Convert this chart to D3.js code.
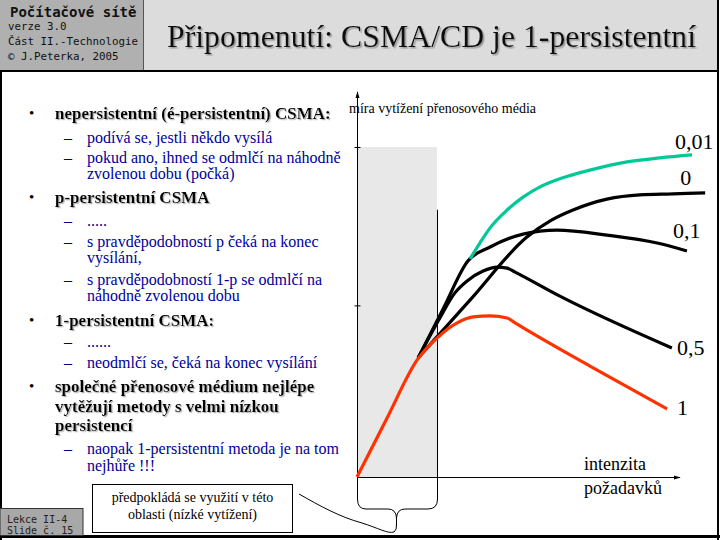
<!DOCTYPE html>
<html><head><meta charset="utf-8">
<script src="https://cdn.jsdelivr.net/npm/d3@7"></script>
<style>body{margin:0;background:#fff}svg{display:block}</style>
</head><body><svg id="c" width="720" height="540"></svg>
<script>
// ---------- data ----------
const persistenceLabels = ["0,01", "0", "0,1", "0,5", "1"];
const curveP001 = [[35.3,66.1],[38.4,70.9],[41.6,75.5],[46.9,80.9],[51.9,84.8],[57.2,87.9],[64.1,90.6],[72.8,93.0],[84.4,95.5],[94.7,96.7],[104.7,97.6]];
const curveP0   = [[19.1,36.1],[35.3,53.6],[53.1,72.7],[60.9,77.9],[67.5,80.9],[78.1,84.2],[88.4,85.5],[98.8,85.8],[108.8,86.1]];
const curveP01  = [[19.1,36.1],[26.9,50.9],[34.7,65.5],[41.6,69.7],[51.9,73.6],[62.5,74.8],[78.1,73.3],[93.8,70.9],[103.1,68.5]];
const curveP05  = [[19.1,36.1],[25.9,48.2],[30.6,55.8],[34.4,59.4],[39.4,62.4],[43.8,63.6],[46.9,63.3],[49.4,62.1],[63.4,54.8],[98.4,39.1]];
const curveP1   = [[0,0],[9.4,17.9],[18.8,35.5],[25,42.1],[31.3,46.7],[36.3,48.5],[41.6,48.8],[46.9,48.2],[49.4,46.7],[72.8,33.6],[96.9,20.6]];
const yTickValues = [52, 100];
const lowLoadRange = [0, 25];
const yAxisTitle = "míra vytížení přenosového média";
const xAxisTitle = ["intenzita", "požadavků"];
const calloutText = ["předpokládá se využití v této", "oblasti (nízké vytížení)"];
const titleText = "Připomenutí: CSMA/CD je 1-persistentní";
const headerTitle = "Počítačové sítě";
const headerLines = ["verze 3.0", "Část II.-Technologie", "© J.Peterka, 2005"];
const footerLines = ["Lekce II-4", "Slide č. 15"];
const bulletLevels = [1, 2, 2, 1, 2, 2, 2, 1, 2, 2, 1, 2];
const bulletTexts = [
  ["nepersistentní (é-persistentní) CSMA:"],
  ["podívá se, jestli někdo vysílá"],
  ["pokud ano, ihned se odmlčí na náhodně", "zvolenou dobu (počká)"],
  ["p-persistentní CSMA"],
  ["....."],
  ["s pravděpodobností p čeká na konec", "vysílání,"],
  ["s pravděpodobností 1-p se odmlčí na", "náhodně zvolenou dobu"],
  ["1-persistentní CSMA:"],
  ["......"],
  ["neodmlčí se, čeká na konec vysílání"],
  ["společné přenosové médium nejlépe", "vytěžují metody s velmi nízkou", "persistencí"],
  ["naopak 1-persistentní metoda je na tom", "nejhůře !!!"]
];

// ---------- layout ----------
const svg = d3.select("#c");
const serif = "'Liberation Serif','Times New Roman',serif";
const mono = "'DejaVu Sans Mono','Liberation Mono',monospace";

const defs = svg.append("defs");
const mkShadow = (id, d, c) => defs.append("filter").attr("id",id).attr("x","-5%").attr("y","-20%").attr("width","110%").attr("height","140%")
  .append("feDropShadow").attr("dx",d).attr("dy",d).attr("stdDeviation",0).attr("flood-color",c).attr("flood-opacity",1);
mkShadow("shT", 1.5, "#9a9a9a");
mkShadow("shB", 1.2, "#b4b4b4");
defs.append("marker").attr("id","arr").attr("viewBox","0 0 10 10").attr("refX",9).attr("refY",5)
  .attr("markerWidth",7).attr("markerHeight",7).attr("orient","auto")
  .append("path").attr("d","M0,2 L10,5 L0,8 Z").attr("fill","#000");

svg.append("rect").attr("x",0).attr("y",0).attr("width",720).attr("height",540).attr("fill","#fff");
// header
svg.append("rect").attr("x",0).attr("y",0).attr("width",143).attr("height",71).attr("fill","#b0b0b0");
svg.append("rect").attr("x",143).attr("y",0).attr("width",576).attr("height",71).attr("fill","#dcdcdc");
svg.append("line").attr("x1",143.5).attr("x2",143.5).attr("y1",0).attr("y2",71).attr("stroke","#555");
svg.append("text").attr("x",10).attr("y",17).attr("font-family",mono).attr("font-weight","bold")
  .attr("font-size",14).attr("fill","#111").text(headerTitle);
headerLines.forEach((t,i)=>svg.append("text").attr("x",8).attr("y",[30,45,60][i])
  .attr("font-family",mono).attr("font-size",10.8).attr("fill","#111").text(t));
// title
svg.append("text").attr("x",167).attr("y",47).attr("font-family",serif).attr("font-size",31.8)
  .attr("fill","#111").attr("filter","url(#shT)").text(titleText);
// frame
svg.append("line").attr("x1",0).attr("x2",719).attr("y1",71).attr("y2",71).attr("stroke","#000").attr("stroke-width",2);
svg.append("line").attr("x1",1).attr("x2",1).attr("y1",70).attr("y2",540).attr("stroke","#000").attr("stroke-width",2);
svg.append("line").attr("x1",718).attr("x2",718).attr("y1",0).attr("y2",540).attr("stroke","#000").attr("stroke-width",2);
svg.append("line").attr("x1",0).attr("x2",720).attr("y1",536.5).attr("y2",536.5).attr("stroke","#000").attr("stroke-width",3);
// footer box
svg.append("rect").attr("x",0).attr("y",508.5).attr("width",83).attr("height",27).attr("fill","#a8a8a8").attr("stroke","#333");
footerLines.forEach((t,i)=>svg.append("text").attr("x",7).attr("y",[523,534][i])
  .attr("font-family",mono).attr("font-size",10).attr("fill","#222").text(t));

// bullets
const bulletY = [[119],[143],[163,179],[203],[226],[247,263],[285,301],[326],[347],[368],[392,412,431],[454,471]];
bulletTexts.forEach((lines,i)=>{
  const lvl = bulletLevels[i];
  if (lvl===1) {
    svg.append("text").attr("x",29).attr("y",bulletY[i][0]-1).attr("font-family",serif).attr("font-size",15).attr("fill","#000").text("•");
    lines.forEach((t,j)=>svg.append("text").attr("x",55).attr("y",bulletY[i][j]).attr("font-family",serif).attr("font-weight","bold")
        .attr("font-size",17).attr("fill","#000").attr("filter","url(#shB)").text(t));
  } else {
    svg.append("text").attr("x",64).attr("y",bulletY[i][0]).attr("font-family",serif).attr("font-size",16).attr("fill","#000080").text("–");
    lines.forEach((t,j)=>svg.append("text").attr("x",87).attr("y",bulletY[i][j]).attr("font-family",serif)
      .attr("font-size",16).attr("fill","#000099").text(t));
  }
});

// ---------- chart ----------
const x = d3.scaleLinear().domain([0,100]).range([357,677]);
const y = d3.scaleLinear().domain([0,100]).range([477,147]);

svg.append("rect").attr("x",x(lowLoadRange[0])).attr("y",y(100)).attr("width",x(lowLoadRange[1])-x(lowLoadRange[0]))
  .attr("height",y(0)-y(100)).attr("fill","#e8e8e8");
svg.append("line").attr("x1",x(lowLoadRange[1])+0.5).attr("x2",x(lowLoadRange[1])+0.5).attr("y1",y(81)).attr("y2",500)
  .attr("stroke","#000").attr("stroke-width",1);

// axes
svg.append("line").attr("x1",x(0)).attr("x2",x(0)+323).attr("y1",y(0)+0.5).attr("y2",y(0)+0.5)
  .attr("stroke","#000").attr("marker-end","url(#arr)");
svg.append("line").attr("x1",x(0)+0.5).attr("x2",x(0)+0.5).attr("y1",y(0)).attr("y2",y(100)-55)
  .attr("stroke","#000").attr("marker-end","url(#arr)");
const yAx = svg.append("g").attr("transform",`translate(${x(0)-2.5},0)`)
  .call(d3.axisLeft(y).tickValues(yTickValues).tickSize(-6).tickFormat(""));
yAx.select(".domain").remove();
yAx.selectAll(".tick line").attr("stroke","#000");

// brace + callout
svg.append("path").attr("d",`M${x(0)+0.5},477 L${x(0)+0.5},499 Q${x(0)+0.5},509 366,509 L388,509 Q396,509 396.5,518 L396.5,526`)
  .attr("fill","none").attr("stroke","#000");
svg.append("path").attr("d",`M437.5,477 L437.5,499 Q437.5,509 428,509 L405,509 Q397,509 396.5,518`)
  .attr("fill","none").attr("stroke","#000");
svg.append("path").attr("d","M299,494 C320,506 340,517 362,523 C378,528 388,534 394,532 Q397,530 396.5,524")
  .attr("fill","none").attr("stroke","#000");
svg.append("rect").attr("x",92.5).attr("y",484.5).attr("width",200).attr("height",48).attr("fill","#fff").attr("stroke","#000");
calloutText.forEach((t,i)=>svg.append("text").attr("x",192.5).attr("y",[502,519][i]).attr("text-anchor","middle")
  .attr("font-family",serif).attr("font-size",14).attr("fill","#000").text(t));

// axis titles
svg.append("text").attr("x",349).attr("y",113).attr("font-family",serif).attr("font-size",14).attr("fill","#000").text(yAxisTitle);
xAxisTitle.forEach((t,i)=>svg.append("text").attr("x",584).attr("y",[470,494][i]).attr("font-family",serif)
  .attr("font-size",18).attr("fill","#000").text(t));

// curves
const line = d3.line().x(d=>x(d[0])).y(d=>y(d[1])).curve(d3.curveMonotoneX);
const curves = [curveP001, curveP0, curveP01, curveP05, curveP1];
const colors = ["#00c896", "#000", "#000", "#000", "#ff3300"];
const order = [1,2,3,0,4];
order.forEach(i=>svg.append("path").attr("d",line(curves[i])).attr("fill","none")
  .attr("stroke",colors[i]).attr("stroke-width",3.2).attr("stroke-linejoin","round"));
// curve labels (offset from curve end point, in px)
const labelOffsets = [[-17,-6],[-25,-8],[-14,-13],[5,7],[10,6]];
persistenceLabels.forEach((t,i)=>{
  const e = curves[i][curves[i].length-1];
  svg.append("text").attr("x",x(e[0])+labelOffsets[i][0]).attr("y",y(e[1])+labelOffsets[i][1])
    .attr("font-family",serif).attr("font-size",22).attr("fill","#000").text(t);
});
</script></body></html>
